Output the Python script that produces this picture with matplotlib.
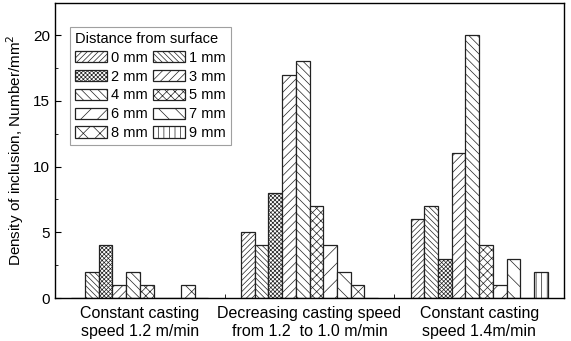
import matplotlib
matplotlib.use("Agg")
import matplotlib.pyplot as plt
import numpy as np
from matplotlib.ticker import MultipleLocator, FixedLocator

plt.rcParams['font.family'] = ['Liberation Sans', 'DejaVu Sans']
plt.rcParams['hatch.linewidth'] = 0.5

groups = ["Constant casting\nspeed 1.2 m/min",
          "Decreasing casting speed\nfrom 1.2  to 1.0 m/min",
          "Constant casting\nspeed 1.4m/min"]
distances = ["0 mm", "1 mm", "2 mm", "3 mm", "4 mm",
             "5 mm", "6 mm", "7 mm", "8 mm", "9 mm"]
# values[group][distance]
values_g1 = [0, 2, 4, 1, 2, 1, 0, 0, 1, 0]
values_g2 = [5, 4, 8, 17, 18, 7, 4, 2, 1, 0]
values_g3 = [6, 7, 3, 11, 20, 4, 1, 3, 0, 2]
values = np.array([values_g1, values_g2, values_g3])

hatches = ['//////', '\\\\\\\\\\\\', 'xxxxxxxx', '////', '\\\\\\\\',
           'xxxx', '//', '\\\\', 'xx', '|||']

fig = plt.figure(figsize=(5.71, 3.41), dpi=100)
ax = fig.add_axes([55/571, 1-298/341, 509/571, 295/341])

x = np.arange(1, len(groups) + 1)
w = 0.0806
bars = []
for i, d in enumerate(distances):
    b = ax.bar(x + (i - 4.5) * w, values[:, i], width=w, color='white',
               edgecolor='#222222', linewidth=0.9, hatch=hatches[i], label=d)
    bars.append(b)

ax.set_xlim(0.5, 3.5)
ax.set_ylim(0, 22.45)
ax.set_xticks(x)
ax.set_xticklabels(groups, fontsize=11.5)
ax.xaxis.set_minor_locator(FixedLocator([1.5, 2.5]))
ax.tick_params(axis='x', which='major', length=0, pad=6)
ax.tick_params(axis='x', which='minor', direction='in', length=3)
ax.yaxis.set_major_locator(MultipleLocator(5))
ax.yaxis.set_minor_locator(MultipleLocator(2.5))
ax.tick_params(axis='y', which='major', direction='in', length=4, labelsize=11)
ax.tick_params(axis='y', which='minor', direction='in', length=2)
ax.set_ylabel("Density of inclusion, Number/mm$^2$", fontsize=11, labelpad=5)

for s in ax.spines.values():
    s.set_linewidth(1.0)

order = [0, 2, 4, 6, 8, 1, 3, 5, 7, 9]
leg = ax.legend([bars[k] for k in order], [distances[k] for k in order],
                ncol=2, title="Distance from surface", fontsize=10.5,
                title_fontsize=10.5, loc='upper left',
                bbox_to_anchor=(0.029, 0.919), borderaxespad=0,
                fancybox=False, handlelength=2.2, handleheight=0.8,
                handletextpad=0.3, columnspacing=0.3, labelspacing=0.33,
                borderpad=0.35)
leg.get_frame().set_edgecolor('#888888')
leg.get_frame().set_linewidth(0.8)
leg._legend_box.align = "left"

fig.savefig("out.png", dpi=100)
